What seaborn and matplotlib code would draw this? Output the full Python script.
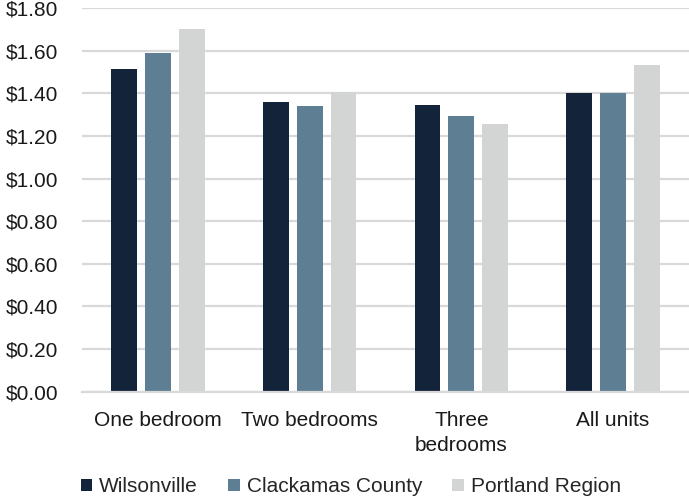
import matplotlib
matplotlib.use("Agg")
import matplotlib.pyplot as plt
from matplotlib.ticker import FuncFormatter, MultipleLocator
import pandas as pd
import seaborn as sns

categories = ["One bedroom", "Two bedrooms", "Three\nbedrooms", "All units"]
series = ["Wilsonville", "Clackamas County", "Portland Region"]
wilsonville = [1.515, 1.357, 1.347, 1.40]
clackamas = [1.587, 1.340, 1.294, 1.40]
portland = [1.70, 1.408, 1.258, 1.534]
colors = ["#13233A", "#5E7F93", "#D3D5D4"]

rows = []
for name, vals in zip(series, [wilsonville, clackamas, portland]):
    for cat, v in zip(categories, vals):
        rows.append({"Unit type": cat, "Area": name, "Rent": v})
df = pd.DataFrame(rows)

sns.set_theme(style="white")
plt.rcParams["font.family"] = ["Liberation Sans", "DejaVu Sans"]

FS = 15
fig = plt.figure(figsize=(6.89, 4.97), dpi=100)
ax = fig.add_axes([82 / 689, 1 - 391.7 / 497, 1 - 82 / 689, (391.7 - 8) / 497])

sns.barplot(data=df, x="Unit type", y="Rent", hue="Area", hue_order=series,
            order=categories, palette=colors, saturation=1, width=0.67, gap=0.235,
            edgecolor="none", linewidth=0, ax=ax, legend=True)

ax.set_ylim(0, 1.8)
ax.set_xlim(-0.5, 3.5)
ax.yaxis.set_major_locator(MultipleLocator(0.2))
ax.yaxis.set_major_formatter(FuncFormatter(lambda v, p: f"${v:.2f}"))
ax.grid(axis="y", color="#D9D9D9", linewidth=1.6)
ax.set_axisbelow(True)
for s in ["top", "right", "left"]:
    ax.spines[s].set_visible(False)
ax.spines["bottom"].set_color("#D9D9D9")
ax.spines["bottom"].set_linewidth(1.6)
ax.set_xlabel("")
ax.set_ylabel("")
ax.tick_params(axis="both", length=0, labelsize=FS, colors="#1A1A1A")
ax.tick_params(axis="y", pad=17)
ax.tick_params(axis="x", pad=14)
for lbl in ax.get_xticklabels():
    lbl.set_linespacing(1.38)

handles, labels = ax.get_legend_handles_labels()
ax.legend_.remove()
fig.legend(handles, labels, loc="center left", bbox_to_anchor=(81 / 689, 10 / 497),
           ncol=3, frameon=False, fontsize=FS, handlelength=0.55, handleheight=0.55,
           handletextpad=0.33, columnspacing=1.45, borderpad=0, borderaxespad=0)

fig.savefig("out.png", dpi=100)
